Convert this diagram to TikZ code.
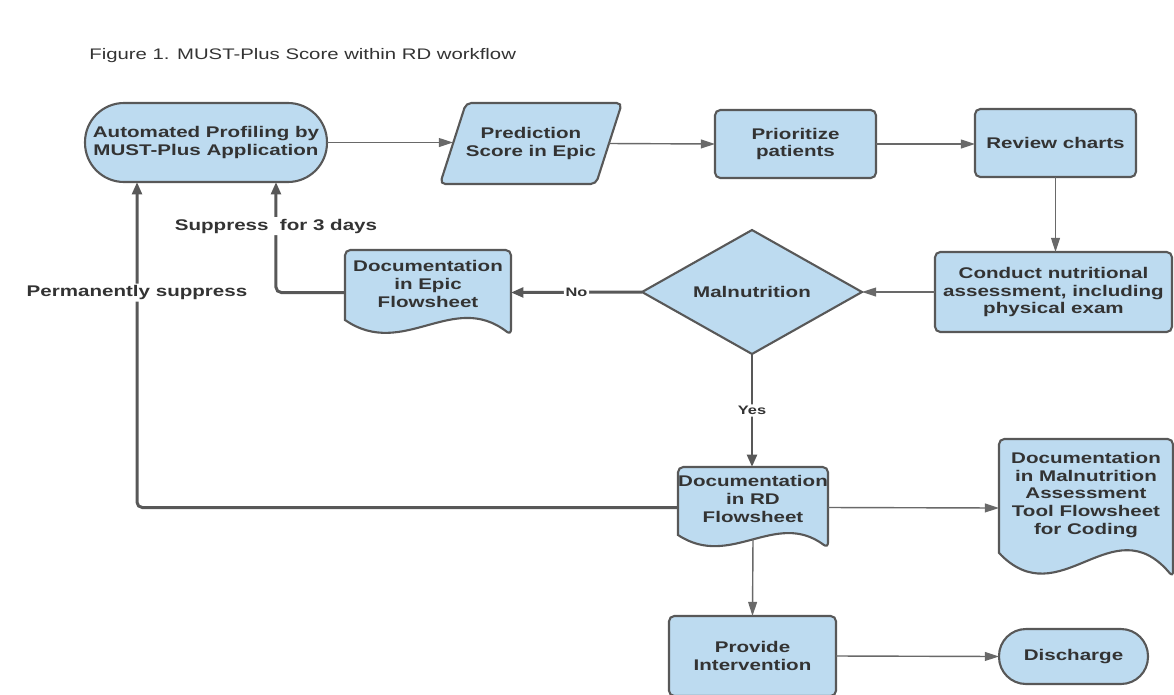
\documentclass[tikz,border=0pt]{standalone}
\usepackage{fontspec}
\setmainfont{Liberation Sans}[FakeStretch=1.33]
\usetikzlibrary{arrows.meta,backgrounds,calc,shapes.geometric}

\definecolor{boxfill}{RGB}{189,219,240}
\definecolor{boxline}{RGB}{88,88,88}
\definecolor{arrowgray}{RGB}{105,105,105}
\definecolor{txt}{RGB}{51,51,51}

% document shape with wavy bottom, #1 node, #2 wave height
\newcommand{\docpath}[2]{%
	\draw[shapebox] ($(#1.south west)+(0,-#2)$) [rounded corners=3pt] -- (#1.north west) -- (#1.north east) -- (#1.south east) [sharp corners]
		.. controls ($(#1.south west)!0.65!(#1.south east)+(0,-3*#2)$) and ($(#1.south west)!0.35!(#1.south east)+(0,1.67*#2)$) .. ($(#1.south west)+(0,-#2)$) -- cycle;
}

\begin{document}
\begin{tikzpicture}[x=0.02cm, y=-0.02cm, font=\fontsize{8.8}{10.2}\selectfont\bfseries,
	shapebox/.style={draw=boxline, line width=1.2pt, fill=boxfill, text=txt, outer sep=0pt, inner sep=0pt, align=center},
	docbox/.style={outer sep=0pt, inner sep=0pt, text=txt, align=center},
	doctext/.style={text=txt, align=center, inner sep=0pt},
	flow/.style={draw=arrowgray, line width=0.8pt, -{Triangle[length=8pt,width=5pt]}},
	back/.style={draw=boxline, line width=1.7pt, rounded corners=3pt, -{Triangle[length=7pt,width=5.5pt]}},
	lbl/.style={fill=white, text=txt, inner sep=1pt}]
	\useasboundingbox (0,0) rectangle (1174,694);

	%title
	\node[anchor=west, inner sep=0pt, font=\fontsize{8.7}{11}\selectfont, text=txt] (title) at (89,55.5) {Figure 1. MUST-Plus Score within RD workflow};

	%top row
	\node[shapebox, minimum width=4.84cm, minimum height=1.58cm, rounded corners=0.78cm] (auto) at (206,142.5) {Automated Profiling by\\MUST-Plus Application};
	\node[docbox, minimum width=3.64cm, minimum height=1.62cm] (pred) at (531,143.5) {Prediction\\Score in Epic};
	\node[shapebox, minimum width=3.22cm, minimum height=1.36cm, rounded corners=3pt] (prio) at (795.5,144) {Prioritize\\patients};
	\node[shapebox, minimum width=3.22cm, minimum height=1.36cm, rounded corners=3pt] (review) at (1055.5,143) {Review charts};

	%middle row
	\node[shapebox, minimum width=4.74cm, minimum height=1.6cm, rounded corners=3pt] (conduct) at (1053.5,292) {Conduct nutritional\\assessment, including\\physical exam};
	\node[shapebox, diamond, aspect=1.77, minimum width=4.4cm, minimum height=2.48cm] (mal) at (752,292) {Malnutrition};
	\node[docbox, minimum width=3.32cm, minimum height=1.7cm] (docEpic) at (428,292.5) {};
	\node[doctext] (docEpicText) at (428,284) {Documentation\\in Epic\\Flowsheet};

	%bottom rows
	\node[docbox, minimum width=3.0cm, minimum height=1.62cm] (docRD) at (753,507.5) {};
	\node[doctext] (docRDText) at (753,499) {Documentation\\in RD\\Flowsheet};
	\node[docbox, minimum width=3.48cm, minimum height=2.76cm] (docMal) at (1086,508) {};
	\node[doctext] (docMalText) at (1086,495) {Documentation\\in Malnutrition\\Assessment\\Tool Flowsheet\\for Coding};
	\node[shapebox, minimum width=3.34cm, minimum height=1.6cm, rounded corners=3pt] (provide) at (752.5,656) {Provide\\Intervention};
	\node[shapebox, minimum width=2.98cm, minimum height=1.1cm, rounded corners=0.54cm] (discharge) at (1073.5,656.5) {Discharge};

	\begin{scope}[on background layer]
		\draw[shapebox, rounded corners=3pt] (pred.south west) -- ($(pred.north west)+(26,0)$) -- (pred.north east) -- ($(pred.south east)+(-26,0)$) -- cycle;
		\docpath{docEpic}{15}
		\docpath{docRD}{13}
		\docpath{docMal}{24}
	\end{scope}

	%arrows
	\draw[flow] (auto.east) -- ([xshift=0.26cm]auto.east -| pred.west);
	\draw[flow] ([xshift=-0.26cm]pred.east) -- (prio.west);
	\draw[flow] (prio.east) -- (prio.east -| review.west);
	\draw[flow] (review.south) -- (review.south |- conduct.north);
	\draw[flow] (conduct.west) -- (mal.east);
	\draw[back] (mal.west) -- (docEpic.east) node[lbl, midway, font=\fontsize{7}{8}\selectfont\bfseries]{No};
	\draw[back] (mal.south) -- (mal.south |- docRD.north) node[lbl, midway, font=\fontsize{7}{8}\selectfont\bfseries]{Yes};
	\draw[back] (docEpic.west) -| ([xshift=1.4cm]auto.south) node[lbl, pos=0.8]{Suppress\ \ for 3 days};
	\draw[back] (docRD.west) -| ([xshift=-1.38cm]auto.south) node[lbl, pos=0.83]{Permanently suppress};
	\draw[flow] (docRD.east) -- (docMal.west);
	\draw[flow] ([yshift=5pt]docRD.south) -- (provide.north);
	\draw[flow] (provide.east) -- (discharge.west);
\end{tikzpicture}
\end{document}
